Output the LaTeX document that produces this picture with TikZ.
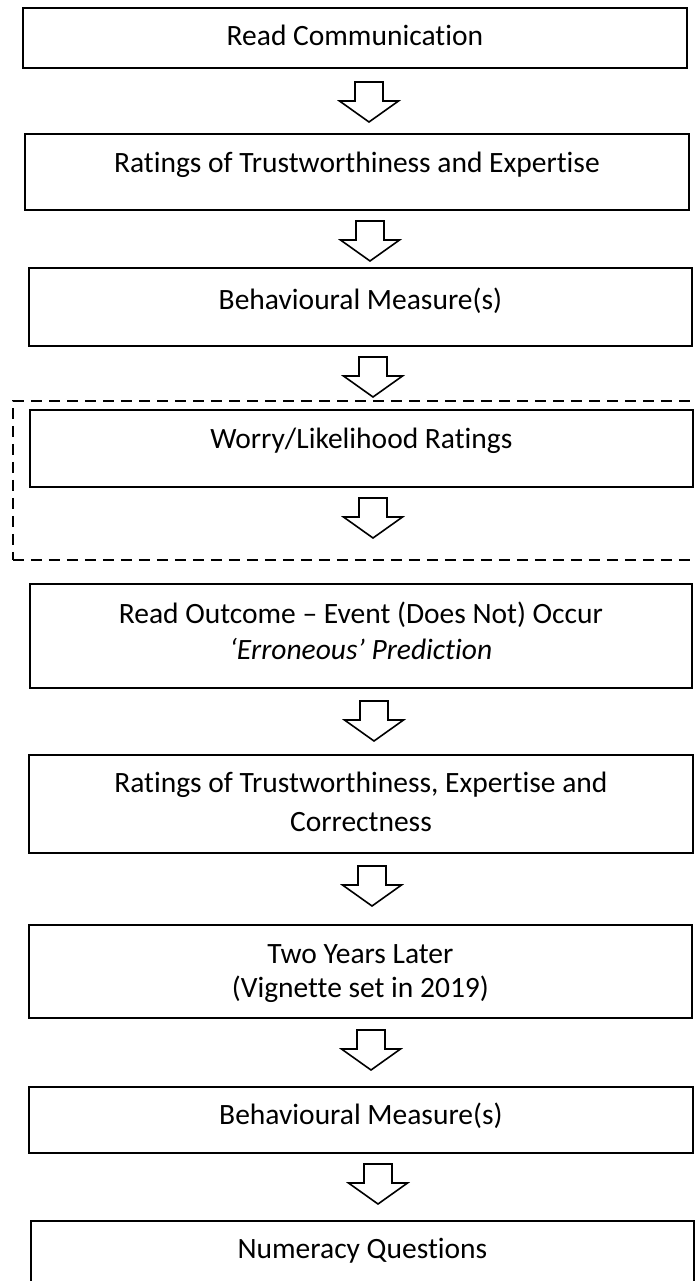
\documentclass[tikz,border=0pt]{standalone}
\usepackage{fontspec}
\setmainfont{Carlito}[RawFeature={-liga}]
\begin{document}
\begin{tikzpicture}[x=1pt,y=-1pt,
  box/.style={draw=black, line width=1.8pt, inner sep=0pt, anchor=north west},
  grpbox/.style={draw=black, line width=1.8pt, inner sep=0pt, anchor=north west, dash pattern=on 11pt off 7pt},
  txt/.style={font=\fontsize{29.5}{35}\selectfont, anchor=base, inner sep=0pt},
  barrow/.pic={\draw[line width=1.6pt, fill=white, line join=miter]
     (-14,0) -- (14,0) -- (14,19) -- (29.5,19) -- (0,40) -- (-29.5,19) -- (-14,19) -- cycle;}
]
\useasboundingbox (0,0) rectangle (695,1281);
% dashed group
\node[grpbox, minimum width=700, minimum height=159] (grp) at (12,400) {};
% boxes
\node[box, minimum width=664, minimum height=60]  (b1) at (22,7) {};
\node[box, minimum width=664, minimum height=76]  (b2) at (24,133) {};
\node[box, minimum width=663, minimum height=78]  (b3) at (28,267) {};
\node[box, minimum width=663, minimum height=77]  (b4) at (29,409) {};
\node[box, minimum width=662, minimum height=104] (b5) at (29,583) {};
\node[box, minimum width=664, minimum height=98]  (b6) at (28,754) {};
\node[box, minimum width=663, minimum height=93]  (b7) at (28,924) {};
\node[box, minimum width=664, minimum height=66]  (b8) at (28,1086) {};
\node[box, minimum width=663, minimum height=80]  (b9) at (30,1220) {};
% texts
\path (b1.north) ++(0,39) node[txt] (t1) {Read Communication};
\path (b2.north) ++(0,40) node[txt] (t2) {Ratings of Trustworthiness and Expertise};
\path (b3.north) ++(0,42) node[txt] (t3) {Behavioural Measure(s)};
\path (b4.north) ++(0,39) node[txt] (t4) {Worry/Likelihood Ratings};
\path (b5.north) ++(0,40) node[txt] (t5a) {Read Outcome – Event (Does Not) Occur};
\path (b5.north) ++(0,76) node[txt] (t5b) {\itshape ‘Erroneous’ Prediction};
\path (b6.north) ++(0,38) node[txt] (t6a) {Ratings of Trustworthiness, Expertise and};
\path (b6.north) ++(0,77) node[txt] (t6b) {Correctness};
\path (b7.north) ++(0,39) node[txt] (t7a) {Two Years Later};
\path (b7.north) ++(0,73) node[txt] (t7b) {(Vignette set in 2019)};
\path (b8.north) ++(0,38) node[txt] (t8) {Behavioural Measure(s)};
\path (b9.north) ++(0,38) node[txt] (t9) {Numeracy Questions};
% block arrows
\pic at (369,82)   {barrow};
\pic at (370,221)  {barrow};
\pic at (373,357)  {barrow};
\pic at (373,498)  {barrow};
\pic at (374,701)  {barrow};
\pic at (372,866)  {barrow};
\pic at (371,1030) {barrow};
\pic at (378,1164) {barrow};
\end{tikzpicture}
\end{document}
